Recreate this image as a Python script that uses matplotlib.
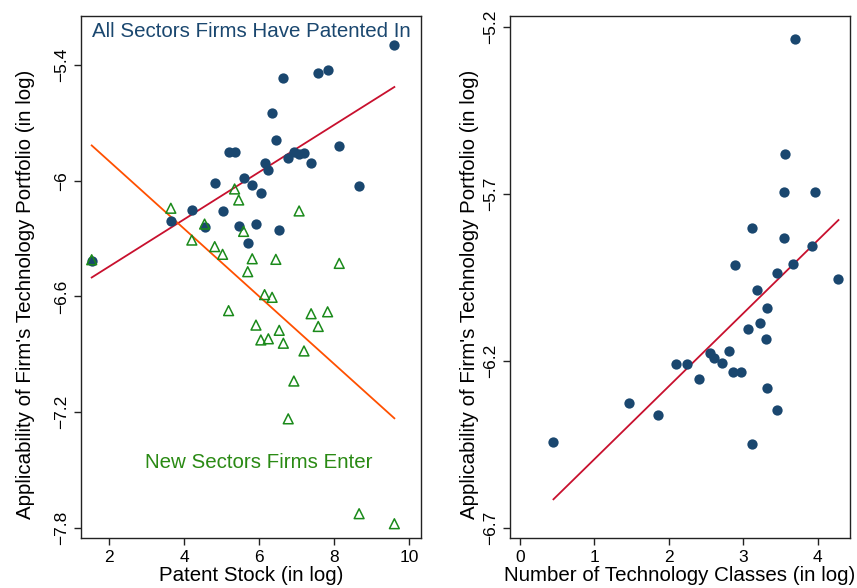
import numpy as np
import matplotlib
matplotlib.use("Agg")
import matplotlib.pyplot as plt

plt.rcParams['font.family'] = ['Liberation Sans', 'DejaVu Sans']

# firm-level patent stock (log), shared by both groups in the left panel
patent_stock = [1.53, 3.64, 4.20, 4.54, 4.81, 5.02, 5.18, 5.34, 5.45, 5.58,
                5.69, 5.81, 5.91, 6.04, 6.14, 6.24, 6.34, 6.44, 6.53, 6.64,
                6.77, 6.92, 7.06, 7.19, 7.38, 7.57, 7.82, 8.13, 8.66, 9.60]
# applicability, all sectors patented in
appl_all = [-6.417, -6.207, -6.150, -6.240, -6.012, -6.156, -5.853, -5.853, -6.235, -5.984,
            -6.322, -6.024, -6.223, -6.066, -5.910, -5.946, -5.651, -5.787, -6.254, -5.469,
            -5.884, -5.850, -5.862, -5.858, -5.910, -5.443, -5.426, -5.822, -6.026, -5.295]
# applicability, new sectors entered
appl_new = [-6.410, -6.143, -6.308, -6.225, -6.342, -6.382, -6.674, -6.043, -6.100, -6.263,
            -6.472, -6.405, -6.749, -6.826, -6.591, -6.820, -6.605, -6.408, -6.776, -6.843,
            -7.235, -7.039, -6.157, -6.883, -6.690, -6.756, -6.680, -6.429, -7.727, -7.779]

# number of technology classes (log) and applicability
n_classes = [3.69, 3.56, 3.55, 3.97, 3.12, 3.55, 3.92, 2.89, 3.67, 3.46, 4.28,
             3.19, 3.32, 3.23, 3.06, 3.31, 2.55, 2.81, 2.61, 2.10, 2.24, 2.72,
             2.86, 2.97, 2.41, 3.32, 1.46, 3.46, 1.86, 0.45, 3.12]
appl_classes = [-5.237, -5.581, -5.694, -5.695, -5.802, -5.832, -5.858, -5.914, -5.911, -5.937, -5.954,
                -5.989, -6.042, -6.087, -6.104, -6.134, -6.176, -6.170, -6.192, -6.210, -6.209, -6.208,
                -6.235, -6.235, -6.254, -6.281, -6.327, -6.348, -6.363, -6.445, -6.450]

navy = '#1a476f'
green = '#1a8a1a'
red = '#c8102e'
orange = '#ff5000'
ylabel = "Applicability of Firm's Technology Portfolio (in log)"
label_size = 14.8


def fit_line(ax, x, y, color):
    x = np.asarray(x)
    b, a = np.polyfit(x, y, 1)
    xs = np.array([x.min(), x.max()])
    ax.plot(xs, a + b * xs, color=color, lw=1.3, zorder=3)


def style(ax):
    for s in ax.spines.values():
        s.set_linewidth(1.0)
        s.set_color('#222222')
    ax.tick_params(labelsize=12.5, length=5, width=1, color='#222222')
    for lab in ax.get_yticklabels():
        lab.set_rotation(90)
        lab.set_va('center')


fig = plt.figure(figsize=(8.57, 5.88), dpi=100)
ax1 = fig.add_axes([81 / 857, 50 / 588, 340 / 857, 522 / 588])
ax2 = fig.add_axes([510 / 857, 50 / 588, 340 / 857, 522 / 588])

# left panel
ax1.scatter(patent_stock, appl_all, s=55, color=navy, zorder=4, linewidths=0)
ax1.scatter(patent_stock, appl_new, s=50, marker='^', facecolors='none',
            edgecolors=green, linewidths=1.1, zorder=5)
fit_line(ax1, patent_stock, appl_all, red)
fit_line(ax1, patent_stock, appl_new, orange)
ax1.set_xlim(1.245, 10.31)
ax1.set_ylim(-7.853, -5.146)
ax1.set_xticks([2, 4, 6, 8, 10])
ax1.set_yticks([-7.8, -7.2, -6.6, -6, -5.4])
ax1.set_yticklabels(['\u22127.8', '\u22127.2', '\u22126.6', '\u22126', '\u22125.4'])
ax1.text(5.78, -5.224, 'All Sectors Firms Have Patented In', color=navy,
         fontsize=label_size, ha='center', va='center')
ax1.text(5.98, -7.464, 'New Sectors Firms Enter', color='#2a8a14',
         fontsize=label_size, ha='center', va='center')
ax1.set_xlabel('Patent Stock (in log)', fontsize=label_size, labelpad=1)
ax1.set_ylabel(ylabel, fontsize=label_size)
ax1.yaxis.set_label_coords(-0.135, 0.466)
style(ax1)

# right panel
ax2.scatter(n_classes, appl_classes, s=55, color=navy, zorder=4, linewidths=0)
fit_line(ax2, n_classes, appl_classes, red)
ax2.set_xlim(-0.134, 4.435)
ax2.set_ylim(-6.731, -5.168)
ax2.set_xticks([0, 1, 2, 3, 4])
ax2.set_yticks([-6.7, -6.2, -5.7, -5.2])
ax2.set_yticklabels(['\u22126.7', '\u22126.2', '\u22125.7', '\u22125.2'])
ax2.set_xlabel('Number of Technology Classes (in log)', fontsize=label_size, labelpad=1)
ax2.set_ylabel(ylabel, fontsize=label_size)
ax2.yaxis.set_label_coords(-0.092, 0.466)
style(ax2)

fig.savefig('out.png', dpi=100)
